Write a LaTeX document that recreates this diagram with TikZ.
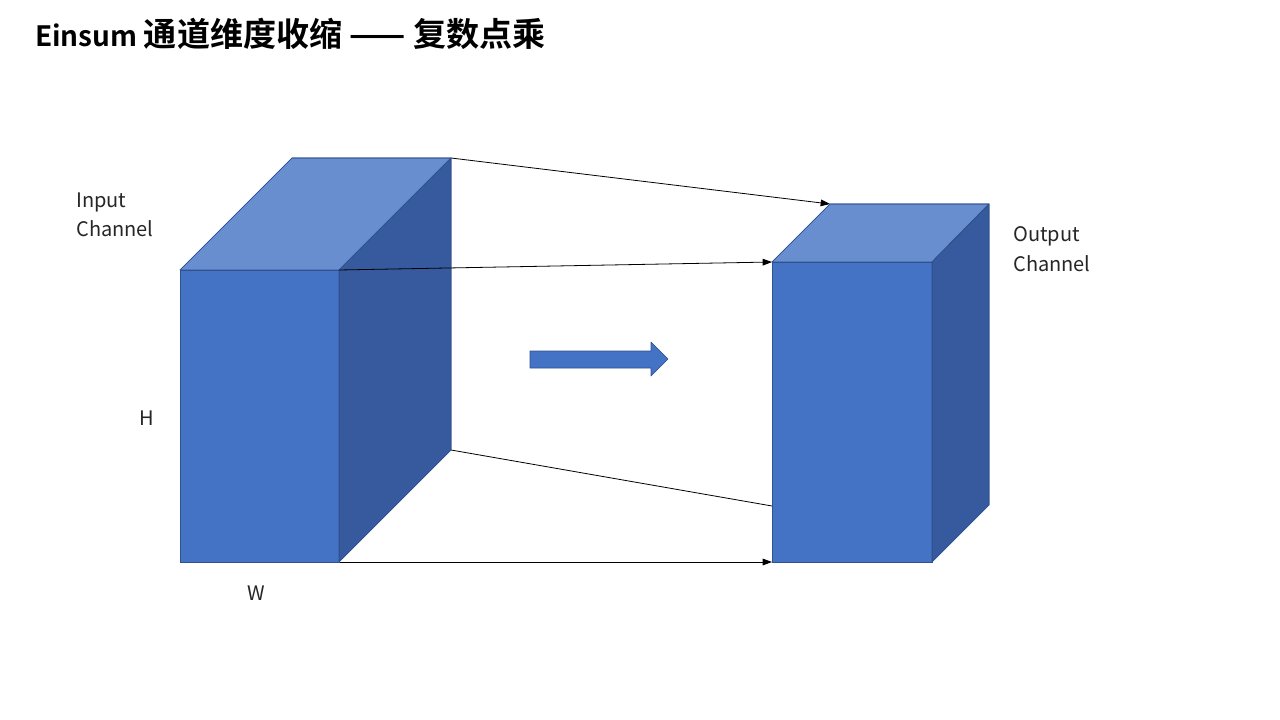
\documentclass[tikz,border=0pt]{standalone}
\usepackage{fontspec}
\setmainfont{Noto Sans CJK SC}
\newfontfamily\titlefont{Noto Sans CJK SC Bold}
\usetikzlibrary{arrows.meta}
\definecolor{frontc}{HTML}{4472C4}
\definecolor{topc}{HTML}{698ED0}
\definecolor{sidec}{HTML}{375A9E}
\definecolor{edgec}{HTML}{2F528F}
\newcommand{\bigcjk}[1]{{\fontsize{24.8}{28}\selectfont #1}}
\tikzset{
  face/.style={draw=edgec, line width=0.5pt, line join=round},
  conn/.style={draw=black, line width=0.6pt, -{Triangle[length=7pt,width=5pt]}},
  plainconn/.style={draw=black, line width=0.6pt},
  lbl/.style={font=\fontsize{15}{18}\selectfont, inner sep=0pt, text=black!85},
}
\begin{document}
\begin{tikzpicture}[x=0.75pt,y=-0.75pt]
\useasboundingbox (0,0) rectangle (1280,720);
% left box corners
\coordinate (lftl) at (180,270);
\coordinate (lftr) at (339,270);
\coordinate (lfbl) at (180,562);
\coordinate (lfbr) at (339,562);
\coordinate (lbtl) at (292,158);
\coordinate (lbtr) at (451,158);
\coordinate (lbbr) at (451,450);
% right box corners
\coordinate (rftl) at (772,262);
\coordinate (rftr) at (932,262);
\coordinate (rfbl) at (772,562);
\coordinate (rfbr) at (932,562);
\coordinate (rbtl) at (830,204);
\coordinate (rbtr) at (989,204);
\coordinate (rbbr) at (989,505);
\coordinate (rmid) at (772,506);
% connectors (behind boxes)
\draw[conn] (lbtr) -- (rbtl);
\draw[plainconn] (lbbr) -- (rmid);
\draw[conn] (lfbr) -- (rfbl);
% left box
\fill[face, fill=frontc] (lftl) -- (lftr) -- (lfbr) -- (lfbl) -- cycle;
\fill[face, fill=topc] (lftl) -- (lbtl) -- (lbtr) -- (lftr) -- cycle;
\fill[face, fill=sidec] (lftr) -- (lbtr) -- (lbbr) -- (lfbr) -- cycle;
\draw[face] (lftl) -- (lftr) -- (lfbr) -- (lfbl) -- cycle;
\draw[face] (lftl) -- (lbtl) -- (lbtr) -- (lftr);
\draw[face] (lbtr) -- (lbbr) -- (lfbr);
% right box
\fill[face, fill=frontc] (rftl) -- (rftr) -- (rfbr) -- (rfbl) -- cycle;
\fill[face, fill=topc] (rftl) -- (rbtl) -- (rbtr) -- (rftr) -- cycle;
\fill[face, fill=sidec] (rftr) -- (rbtr) -- (rbbr) -- (rfbr) -- cycle;
\draw[face] (rftl) -- (rftr) -- (rfbr) -- (rfbl) -- cycle;
\draw[face] (rftl) -- (rbtl) -- (rbtr) -- (rftr);
\draw[face] (rbtr) -- (rbbr) -- (rfbr);
% connector drawn over the left box side face
\draw[conn] (lftr) -- (rftl);
% block arrow
\draw[face, fill=frontc] (530,351) -- (651,351) -- (651,342) -- (668,359) -- (651,376) -- (651,368) -- (530,368) -- cycle;
% texts
\node[anchor=base west, inner sep=0pt, font=\titlefont\fontsize{21}{25}\selectfont] (title) at (35,47) {Einsum \bigcjk{通道维度收缩 —— 复数点乘}};
\node[lbl, anchor=base west] (in1) at (76,208) {Input};
\node[lbl, anchor=base west] (in2) at (76,237) {Channel};
\node[lbl, anchor=base west] (out1) at (1013,242) {Output};
\node[lbl, anchor=base west] (out2) at (1013,271) {Channel};
\node[lbl, anchor=base] (hl) at (147,425) {H};
\node[lbl, anchor=base] (wl) at (256,600) {W};
\end{tikzpicture}
\end{document}
